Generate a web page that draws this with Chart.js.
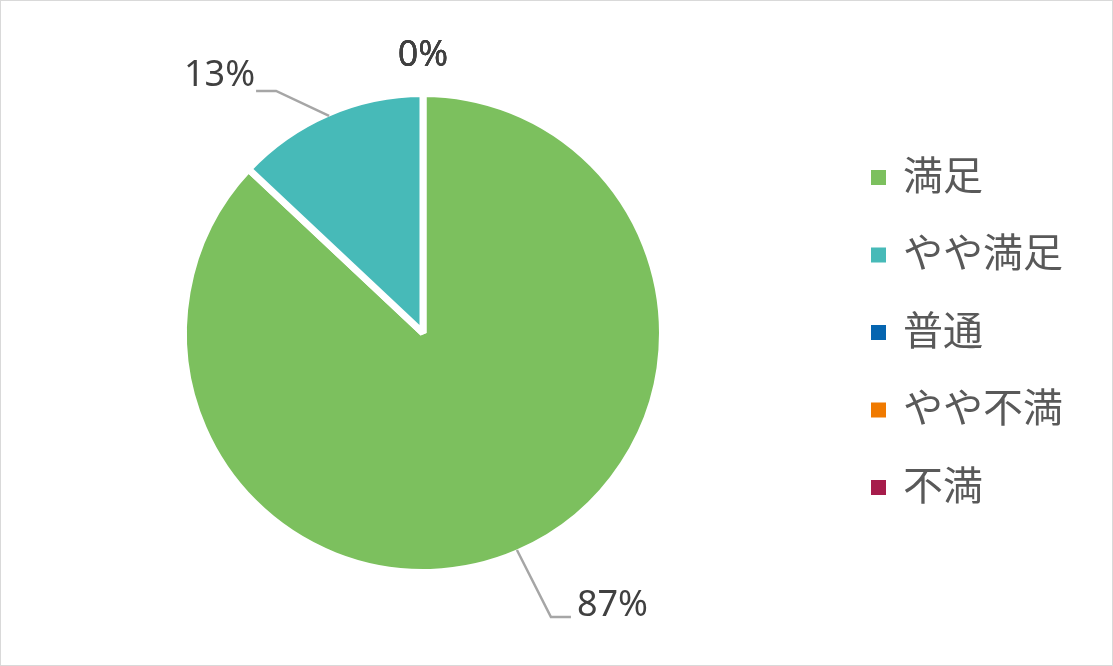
<!DOCTYPE html>
<html lang="ja">
<head>
    <meta charset="UTF-8">
    <title>満足度</title>
    <style>
        body {
            margin: 0;
            background: #ffffff;
            overflow: hidden;
        }
        #wrap {
            position: relative;
            width: 1113px;
            height: 666px;
        }
    </style>
</head>
<body>
    <div id="wrap">
        <canvas id="pieChart"></canvas>
    </div>

    <script src="https://cdn.jsdelivr.net/npm/chart.js"></script>
    <script>
        // data
        const categories = ['満足', 'やや満足', '普通', 'やや不満', '不満'];
        const shares = [87, 13, 0, 0, 0];
        const shareLabels = ['87%', '13%', '0%', '0%', '0%'];
        const sliceColors = ['#7CC05E', '#47BAB8', '#0565B0', '#F07A00', '#A61C4B'];

        // frame round the whole chart
        const framePlugin = {
            id: 'frame',
            beforeDraw(chart) {
                const ctx = chart.ctx;
                ctx.save();
                ctx.strokeStyle = '#D9D9D9';
                ctx.lineWidth = 1;
                ctx.strokeRect(0.5, 0.5, chart.width - 1, chart.height - 1);
                ctx.restore();
            }
        };

        // data labels with leader lines, like Excel's best fit
        const pieLabelsPlugin = {
            id: 'pieLabels',
            afterDatasetsDraw(chart, args, opts) {
                const ctx = chart.ctx;
                const meta = chart.getDatasetMeta(0);
                ctx.save();
                ctx.font = opts.font;
                ctx.fillStyle = opts.color;
                ctx.textBaseline = 'alphabetic';
                meta.data.forEach((arc, i) => {
                    const p = opts.place[i];
                    const mid = (arc.startAngle + arc.endAngle) / 2;
                    const r = arc.outerRadius - opts.edgeInset;
                    const ex = arc.x + Math.cos(mid) * r;
                    const ey = arc.y + Math.sin(mid) * r;
                    let tx, ty;
                    if (p.elbow) {
                        const bx = ex + p.elbow[0];
                        const by = ey + p.elbow[1];
                        ctx.beginPath();
                        ctx.strokeStyle = opts.lineColor;
                        ctx.lineWidth = 2.5;
                        ctx.moveTo(ex, ey);
                        ctx.lineTo(bx, by);
                        ctx.lineTo(bx + p.tail, by);
                        ctx.stroke();
                        tx = bx + p.tail + p.text[0];
                        ty = by + p.text[1];
                    } else {
                        tx = ex + p.text[0];
                        ty = ey + p.text[1];
                    }
                    ctx.textAlign = p.align;
                    ctx.fillText(shareLabels[i], tx, ty);
                });
                ctx.restore();
            }
        };

        // legend on the right, square markers
        const sideLegendPlugin = {
            id: 'sideLegend',
            afterDraw(chart, args, opts) {
                const ctx = chart.ctx;
                ctx.save();
                ctx.font = opts.font;
                ctx.textBaseline = 'middle';
                ctx.textAlign = 'left';
                categories.forEach((name, i) => {
                    const y = opts.top + i * opts.step;
                    ctx.fillStyle = sliceColors[i];
                    ctx.fillRect(opts.x, y, opts.box, opts.box);
                    ctx.fillStyle = opts.color;
                    ctx.fillText(name, opts.x + opts.textGap, y + opts.box / 2 - 3);
                });
                ctx.restore();
            }
        };

        const ctx = document.getElementById('pieChart').getContext('2d');
        new Chart(ctx, {
            type: 'pie',
            data: {
                labels: categories,
                datasets: [{
                    data: shares,
                    backgroundColor: sliceColors,
                    borderColor: '#ffffff',
                    borderWidth: 7
                }]
            },
            options: {
                responsive: true,
                maintainAspectRatio: false,
                animation: false,
                layout: {
                    padding: { top: 90, bottom: 90, left: 180, right: 447 }
                },
                plugins: {
                    legend: { display: false },
                    tooltip: { enabled: false },
                    pieLabels: {
                        font: '36px "Noto Sans", "Open Sans", sans-serif',
                        color: '#404040',
                        lineColor: '#A6A6A6',
                        edgeInset: 3,
                        place: [
                            { elbow: [34, 67], tail: 20, text: [6, -1], align: 'left' },
                            { elbow: [-53, -25], tail: -20, text: [-1, -5], align: 'right' },
                            { text: [0, -31], align: 'center' },
                            { text: [0, -31], align: 'center' },
                            { text: [0, -31], align: 'center' }
                        ]
                    },
                    sideLegend: {
                        font: '40px "Noto Sans CJK JP", sans-serif',
                        color: '#595959',
                        x: 871,
                        top: 170,
                        step: 77.5,
                        box: 15,
                        textGap: 32
                    }
                }
            },
            plugins: [framePlugin, pieLabelsPlugin, sideLegendPlugin]
        });
    </script>
</body>
</html>
